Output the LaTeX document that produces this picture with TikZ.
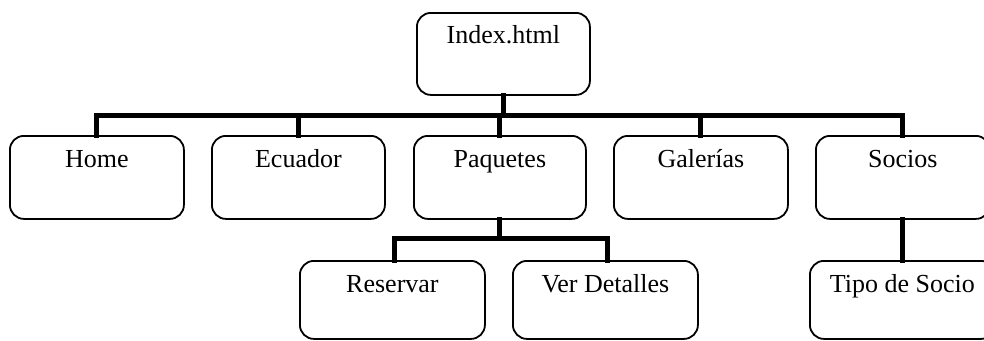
\documentclass[tikz,border=0pt]{standalone}
\usepackage{fontspec}
\setmainfont{Liberation Serif}
\begin{document}
\begin{tikzpicture}[x=1pt,y=-1pt,
  box/.style={draw=black, line width=1.8pt, rounded corners=14pt, anchor=north west,
    inner sep=0pt, font=\fontsize{26}{30}\selectfont, text height=32pt, text depth=51pt},
  boxa/.style={box, minimum width=174pt},
  boxb/.style={box, minimum width=185pt, text depth=46pt},
  bus/.style={line width=5pt, line join=miter, line cap=rect}]
\useasboundingbox (0,0) rectangle (984,340);
\clip (0,0) rectangle (984,340);
\node[box, minimum width=173pt, text height=31pt, text depth=51pt] (idx) at (416,12) {Index.html};
\node[boxa] (home) at (9,135) {Home};
\node[boxa, minimum width=173pt] (ecu) at (211,135) {Ecuador};
\node[boxa, minimum width=172pt] (paq) at (413,135) {Paquetes};
\node[boxa] (gal) at (613,135) {Galerías};
\node[boxa] (soc) at (815,135) {Socios};
\node[boxb] (res) at (299,260) {Reservar};
\node[boxb] (ver) at (512,260) {Ver Detalles};
\node[boxb] (tip) at (809,260) {Tipo de Socio};
\coordinate (b1) at (500,115);
\coordinate (b2) at (500,238);
\draw[bus] (idx.south) -- (idx.south |- b1);
\draw[bus] (home.north) -- (home.north |- b1) -- (soc.north |- b1) -- (soc.north);
\draw[bus] (ecu.north) -- (ecu.north |- b1);
\draw[bus] (paq.north) -- (paq.north |- b1);
\draw[bus] (gal.north) -- (gal.north |- b1);
\draw[bus] (paq.south) -- (paq.south |- b2);
\draw[bus] ([xshift=2pt]res.north) -- ([xshift=2pt]res.north |- b2) -- ([xshift=2pt]ver.north |- b2) -- ([xshift=2pt]ver.north);
\draw[bus] (soc.south) -- (tip.north -| soc.south);
\end{tikzpicture}
\end{document}
